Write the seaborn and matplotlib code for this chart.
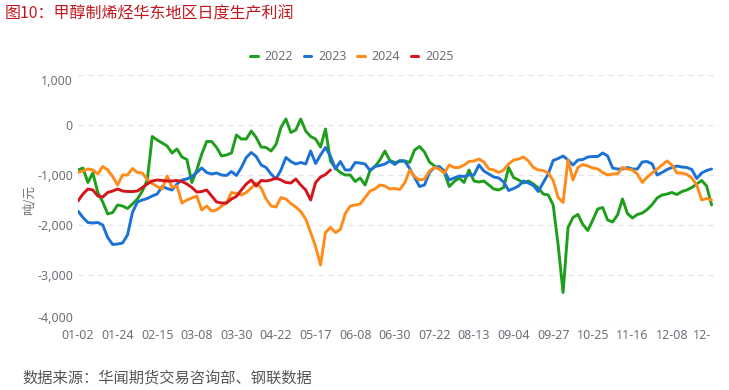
import numpy as np
import pandas as pd
import seaborn as sns
import matplotlib.pyplot as plt
from matplotlib.lines import Line2D

sns.set_theme(style="white")
plt.rcParams['font.family'] = ['Noto Sans', 'Noto Sans CJK SC', 'DejaVu Sans']

# ---------------- data ----------------
years = ["2022", "2023", "2024", "2025"]
x_labels = ["01-02", "01-24", "02-15", "03-08", "03-30", "04-22", "05-17", "06-08",
            "06-30", "07-22", "08-13", "09-04", "09-27", "10-25", "11-16", "12-08", "12-"]
label_every = 16   # trading days between axis labels
step = 2           # sampling step (trading days) of the series below

v2022 = [-900, -860, -1150, -960, -1350, -1540, -1780, -1750, -1600, -1620,
         -1670, -1580, -1480, -1320, -1100, -230, -300, -360, -420, -560,
         -480, -640, -690, -1150, -900, -580, -330, -330, -450, -620,
         -600, -560, -200, -280, -280, -120, -250, -440, -450, -520,
         -390, -50, 120, -150, -100, 120, -120, -230, -280, -440,
         -80, -720, -860, -950, -1000, -1000, -1130, -1060, -1200, -910,
         -830, -700, -520, -710, -750, -730, -720, -750, -500, -430,
         -540, -740, -820, -880, -950, -1230, -1130, -1060, -1150, -900,
         -1120, -1140, -1120, -1200, -1280, -1300, -1250, -850, -1050, -1100,
         -1160, -1120, -1180, -1260, -1380, -1400, -1600, -2400, -3350, -2050,
         -1850, -1790, -1990, -2110, -1900, -1680, -1650, -1900, -1940, -1800,
         -1480, -1770, -1860, -1790, -1760, -1690, -1590, -1460, -1400, -1380,
         -1350, -1390, -1330, -1300, -1250, -1180, -1110, -1220, -1600]

v2023 = [-1720, -1850, -1950, -1960, -1950, -2000, -2250, -2390, -2380, -2360,
         -2200, -1750, -1540, -1500, -1470, -1420, -1380, -1230, -1270, -1300,
         -1180, -1100, -1080, -1030, -950, -860, -950, -980, -960, -1000,
         -1010, -930, -1010, -850, -650, -550, -630, -800, -850, -980,
         -1080, -900, -650, -730, -780, -750, -780, -520, -770, -600,
         -450, -620, -880, -730, -900, -900, -750, -760, -780, -910,
         -830, -810, -780, -720, -790, -710, -720, -870, -1050, -1230,
         -1200, -950, -850, -830, -920, -1100, -1060, -1020, -1030, -1000,
         -1000, -800, -920, -980, -1040, -1060, -1140, -1310, -1270, -1220,
         -1120, -1160, -1210, -1330, -1150, -980, -710, -670, -620, -700,
         -800, -700, -690, -640, -630, -630, -560, -620, -860, -880,
         -880, -850, -880, -880, -740, -730, -780, -1000, -950, -890,
         -850, -820, -840, -850, -890, -1070, -960, -910, -880]

v2024 = [-950, -920, -880, -900, -980, -830, -900, -1030, -1200, -1000,
         -1000, -870, -950, -960, -1090, -1170, -1230, -1280, -1020, -1250,
         -1220, -1560, -1500, -1460, -1420, -1700, -1620, -1720, -1700, -1620,
         -1560, -1350, -1370, -1400, -1350, -1260, -1160, -1260, -1480, -1620,
         -1640, -1450, -1480, -1570, -1640, -1730, -1880, -2150, -2430, -2800,
         -2150, -2050, -2150, -2090, -1770, -1620, -1600, -1580, -1450, -1320,
         -1280, -1200, -1220, -1280, -1270, -1290, -1160, -900, -1030, -1100,
         -1080, -920, -850, -880, -960, -800, -850, -850, -800, -730,
         -720, -680, -740, -880, -900, -950, -900, -780, -700, -680,
         -640, -720, -850, -900, -910, -960, -1110, -1450, -1550, -700,
         -1100, -850, -790, -820, -860, -880, -950, -1000, -980, -980,
         -850, -880, -900, -980, -1150, -1040, -960, -880, -800, -720,
         -800, -960, -960, -990, -1060, -1200, -1500, -1470, -1500]

v2025 = [-1520, -1380, -1280, -1300, -1420, -1440, -1350, -1320, -1280, -1320,
         -1330, -1330, -1320, -1250, -1180, -1120, -1100, -1110, -1120, -1120,
         -1110, -1130, -1180, -1250, -1340, -1330, -1300, -1420, -1540, -1560,
         -1560, -1480, -1430, -1300, -1180, -1100, -1220, -1110, -1120, -1100,
         -1060, -1100, -1150, -1160, -1080, -1200, -1300, -1500, -1150, -1040,
         -990, -900]

series = {"2022": v2022, "2023": v2023, "2024": v2024, "2025": v2025}
colors = {"2022": "#1f9e1c", "2023": "#1c72d4", "2024": "#ff8c1a", "2025": "#d4161c"}

frames = []
for yr in years:
    vals = series[yr]
    frames.append(pd.DataFrame({"idx": np.arange(len(vals)) * step,
                                "value": vals, "year": yr}))
df = pd.concat(frames, ignore_index=True)

# ---------------- figure ----------------
W, H = 729, 390
fig = plt.figure(figsize=(W / 100, H / 100), dpi=100)
ax = fig.add_axes([78 / W, 1 - 325 / H, (719 - 78) / W, 250 / H])

sns.lineplot(data=df, x="idx", y="value", hue="year", palette=colors,
             hue_order=years, linewidth=2.1, ax=ax, legend=False,
             estimator=None, sort=False)

ax.set_xlim(0, 259)
ax.set_ylim(-4000, 1000)
tick_pos = np.arange(len(x_labels)) * label_every
ax.set_xticks(tick_pos)
ax.set_xticklabels(x_labels)
yt = np.arange(-4000, 1001, 1000)
ax.set_yticks(yt)
ax.set_yticklabels([f"{v:,}" for v in yt])

grey = "#6e7079"
ax.tick_params(axis="both", length=0, labelsize=9, colors=grey)
ax.tick_params(axis="x", pad=3)
ax.tick_params(axis="y", pad=3.6)
ylabs = ax.get_yticklabels()
ylabs[0].set_va("bottom")
ylabs[-1].set_va("top")
ax.get_xticklabels()[-1].set_ha("right")

ax.yaxis.grid(True, linestyle=(0, (4, 4)), color="#e0e3ea", linewidth=0.9)
ax.xaxis.grid(False)
for s in ax.spines.values():
    s.set_visible(False)
ax.set_xlabel("")
ax.set_ylabel("")

# legend
handles = [Line2D([0], [0], color=colors[y], lw=2.2) for y in years]
ax.legend(handles, years, loc="center", bbox_to_anchor=(352 / W, 1 - 57 / H),
          bbox_transform=fig.transFigure, ncol=4, frameon=False,
          handlelength=0.6, handletextpad=0.55, columnspacing=0.85,
          fontsize=9, labelcolor=grey)

# texts
cjk = ['Noto Sans CJK SC', 'DejaVu Sans']
fig.text(30 / W, 1 - 200 / H, "吨/元", rotation=90, ha="center", va="center",
         fontsize=9, color=grey, family=cjk)
fig.text(5 / W, 1 - 14 / H, "图10：甲醇制烯烃华东地区日度生产利润", ha="left",
         va="center", fontsize=11.5, color="#c0161d", family=cjk)
fig.text(22 / W, 1 - 378 / H, "数据来源：华闻期货交易咨询部、钢联数据", ha="left",
         va="center", fontsize=11, color="#555555", family=cjk)

fig.savefig("out.png", dpi=100)
